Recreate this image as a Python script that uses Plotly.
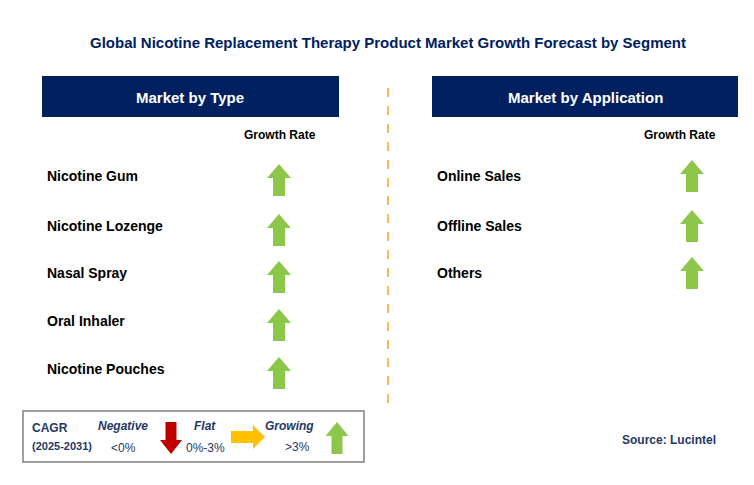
import plotly.graph_objects as go

title = "Global Nicotine Replacement Therapy Product Market Growth Forecast by Segment"
type_header = "Market by Type"
app_header = "Market by Application"
type_cats = ["Nicotine Gum", "Nicotine Lozenge", "Nasal Spray", "Oral Inhaler", "Nicotine Pouches"]
type_growth = ["up", "up", "up", "up", "up"]
app_cats = ["Online Sales", "Offline Sales", "Others"]
app_growth = ["up", "up", "up"]

NAVY = "#002060"
GREEN = "#8DC74A"
FONT = "Liberation Sans"

fig = go.Figure()

def arrow(cx, cy, direction, color, w=24, h=32, sw=12, hh=14):
    if direction == "up":
        xs = [cx, cx + w/2, cx + sw/2, cx + sw/2, cx - sw/2, cx - sw/2, cx - w/2, cx]
        ys = [cy - h/2, cy - h/2 + hh, cy - h/2 + hh, cy + h/2, cy + h/2, cy - h/2 + hh, cy - h/2 + hh, cy - h/2]
    elif direction == "down":
        xs = [cx, cx + w/2, cx + sw/2, cx + sw/2, cx - sw/2, cx - sw/2, cx - w/2, cx]
        ys = [cy + h/2, cy + h/2 - hh, cy + h/2 - hh, cy - h/2, cy - h/2, cy + h/2 - hh, cy + h/2 - hh, cy + h/2]
    else:  # right
        xs = [cx + h/2, cx + h/2 - hh, cx + h/2 - hh, cx - h/2, cx - h/2, cx + h/2 - hh, cx + h/2 - hh, cx + h/2]
        ys = [cy, cy + w/2, cy + sw/2, cy + sw/2, cy - sw/2, cy - sw/2, cy - w/2, cy]
    fig.add_trace(go.Scatter(x=xs, y=ys, fill="toself", fillcolor=color, mode="lines",
                             line=dict(width=0, color=color), hoverinfo="skip", showlegend=False))

ann = []
def text(x, y, s, size=14, color="black", bold=True, xanchor="left", italic=False):
    t = f"<b>{s}</b>" if bold else s
    if italic:
        t = f"<i>{t}</i>"
    ann.append(dict(x=x, y=y, xref="x", yref="y", text=t, showarrow=False, xanchor=xanchor,
                    yanchor="middle", font=dict(family=FONT, size=size, color=color)))

text(388, 42, title, size=15, color=NAVY, xanchor="center")

shapes = [
    dict(type="rect", x0=42, x1=339, y0=76, y1=117, fillcolor=NAVY, line_width=0, xref="x", yref="y"),
    dict(type="rect", x0=432, x1=738, y0=76, y1=117, fillcolor=NAVY, line_width=0, xref="x", yref="y"),
    dict(type="line", x0=388, x1=388, y0=88, y1=405, line=dict(color="#F5A623", width=1.5, dash="dash"), xref="x", yref="y"),
    dict(type="rect", x0=23, x1=364, y0=411, y1=462, line=dict(color="#808080", width=1.5), xref="x", yref="y"),
]
text(190, 97, type_header, size=15, color="white", xanchor="center")
text(585, 97, app_header, size=15, color="white", xanchor="center")
text(280, 135, "Growth Rate", size=12, xanchor="center")
text(680, 135, "Growth Rate", size=12, xanchor="center")

left_y = [176, 226, 273, 321, 369]
for i, (c, g) in enumerate(zip(type_cats, type_growth)):
    text(45, left_y[i], c, size=14)
    arrow(279, left_y[i] + 4, g, GREEN)
right_y = [176, 226, 273]
for i, (c, g) in enumerate(zip(app_cats, app_growth)):
    text(435, right_y[i], c, size=14)
    arrow(692, right_y[i], g, GREEN)

# legend
LC = "#1F3864"
text(30, 428, "CAGR", size=12, color=LC)
text(30, 446, "(2025-2031)", size=11, color=LC)
text(123, 426, "Negative", size=12, color=LC, italic=True, xanchor="center")
text(123, 448, "&lt;0%", size=12, color=LC, bold=False, xanchor="center")
arrow(171, 438, "down", "#C00000", w=22, h=32, sw=11, hh=14)
text(205, 426, "Flat", size=12, color=LC, italic=True, xanchor="center")
text(205, 448, "0%-3%", size=12, color=LC, bold=False, xanchor="center")
arrow(248, 437, "right", "#FFC000", w=24, h=34, sw=12, hh=12)
text(289, 426, "Growing", size=12, color=LC, italic=True, xanchor="center")
text(297, 447, "&gt;3%", size=12, color=LC, bold=False, xanchor="center")
arrow(337, 438, "up", GREEN, w=23, h=32, sw=11, hh=14)

text(718, 440, "Source: Lucintel", size=12, color=LC, xanchor="right")

OFF = 8  # page body margin
fig.update_layout(
    width=754, height=485, margin=dict(l=0, r=0, t=0, b=0),
    paper_bgcolor="white", plot_bgcolor="white",
    xaxis=dict(range=[OFF, 754 + OFF], visible=False, fixedrange=True),
    yaxis=dict(range=[485 + OFF, OFF], visible=False, fixedrange=True),
    annotations=ann, shapes=shapes, showlegend=False,
)
fig.write_html("out.html")
